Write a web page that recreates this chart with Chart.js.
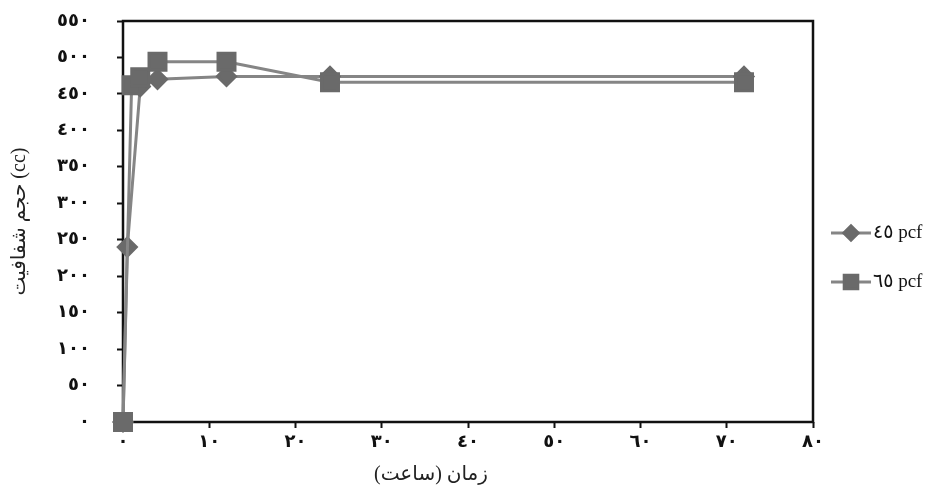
<!DOCTYPE html>
<html>
<head>
<meta charset="utf-8">
<script src="https://cdn.jsdelivr.net/npm/chart.js@4.4.0/dist/chart.umd.min.js"></script>
<style>
  html, body { margin: 0; padding: 0; background: #fff; }
  #wrap { width: 940px; height: 492px; }
</style>
</head>
<body>
<div id="wrap"><canvas id="grafico" width="940" height="492"></canvas></div>
<script>
// tick labels in Arabic-Indic digits
const xTickLabels = ['٠', '١٠', '٢٠', '٣٠', '٤٠', '٥٠', '٦٠', '٧٠', '٨٠'];
const yTickLabels = ['٠', '٥٠', '١٠٠', '١٥٠', '٢٠٠', '٢٥٠', '٣٠٠', '٣٥٠', '٤٠٠', '٤٥٠', '٥٠٠', '٥٥٠'];

// series (hours, cc)
const seriesNames = ['٤٥ pcf', '٦٥ pcf'];
const hours45 = [0, 0.5, 2, 4, 12, 24, 72];
const volume45 = [0, 240, 460, 470, 474, 474, 474];
const hours65 = [0, 1, 2, 4, 12, 24, 72];
const volume65 = [0, 462, 473, 494, 494, 466, 466];

const xTitle = 'زمان (ساعت)';
const yTitle = 'حجم شفافیت (cc)';

const fontFam = "'Liberation Serif', 'DejaVu Sans', serif";
const lineGrey = '#858585';
const markGrey = '#6a6a6a';

function toPoints(xs, ys) {
  return xs.map(function(x, i) { return { x: x, y: ys[i] }; });
}

// frame round the plot, legend and x title
const extras = {
  id: 'extras',
  beforeDatasetsDraw: function(chart) {
    const a = chart.chartArea;
    const ctx = chart.ctx;
    ctx.save();
    ctx.strokeStyle = '#111';
    ctx.lineWidth = 2.5;
    ctx.strokeRect(a.left, a.top, a.right - a.left, a.bottom - a.top);
    ctx.restore();
  },
  afterDraw: function(chart) {
    const a = chart.chartArea;
    const ctx = chart.ctx;
    ctx.save();
    // legend
    const rows = [233, 282];
    chart.data.datasets.forEach(function(ds, i) {
      const y = rows[i];
      const x0 = a.right + 18;
      ctx.strokeStyle = ds.borderColor;
      ctx.lineWidth = 3;
      ctx.beginPath();
      ctx.moveTo(x0, y);
      ctx.lineTo(x0 + 40, y);
      ctx.stroke();
      ctx.fillStyle = ds.pointBackgroundColor;
      ctx.strokeStyle = ds.pointBorderColor;
      Chart.helpers.drawPoint(ctx, {
        pointStyle: ds.pointStyle,
        radius: ds.pointRadius * 0.8,
        rotation: 0,
        borderWidth: 1
      }, x0 + 20, y);
      ctx.fillStyle = '#111';
      ctx.font = '19px ' + fontFam;
      ctx.textAlign = 'left';
      ctx.textBaseline = 'middle';
      ctx.fillText(ds.label, x0 + 42, y);
    });
    // x axis title, right-to-left
    ctx.direction = 'rtl';
    ctx.font = '20px ' + fontFam;
    ctx.fillStyle = '#222';
    ctx.textAlign = 'center';
    ctx.textBaseline = 'middle';
    ctx.fillText(xTitle, 431, 475);
    ctx.restore();
  }
};

const ctx = document.querySelector('#grafico');
const chart = new Chart(ctx, {
  type: 'line',
  data: {
    datasets: [{
      label: seriesNames[0],
      data: toPoints(hours45, volume45),
      borderColor: lineGrey,
      borderWidth: 3,
      pointStyle: 'rectRot',
      pointRadius: 9,
      pointBackgroundColor: markGrey,
      pointBorderColor: markGrey,
      clip: false,
      order: 1
    }, {
      label: seriesNames[1],
      data: toPoints(hours65, volume65),
      borderColor: lineGrey,
      borderWidth: 3,
      pointStyle: 'rect',
      pointRadius: 12,
      pointBackgroundColor: markGrey,
      pointBorderColor: markGrey,
      clip: false,
      order: 0
    }]
  },
  options: {
    responsive: false,
    animation: false,
    layout: { autoPadding: false, padding: { top: 21, right: 127, left: 0, bottom: 0 } },
    plugins: {
      legend: { display: false },
      tooltip: { enabled: false }
    },
    scales: {
      x: {
        type: 'linear',
        min: 0,
        max: 80,
        afterFit: function(scale) { scale.height = 70; },
        border: { display: false },
        grid: { drawOnChartArea: false, drawTicks: true, tickLength: 6, tickWidth: 2, tickColor: '#111' },
        ticks: {
          stepSize: 10,
          padding: 4,
          color: '#111',
          font: { family: fontFam, size: 18, weight: 'bold' },
          callback: function(v, i) { return xTickLabels[i]; }
        }
      },
      y: {
        min: 0,
        max: 550,
        afterFit: function(scale) {
          scale.width = 123;
          scale.paddingTop = 0;
          scale.paddingBottom = 0;
        },
        border: { display: false },
        grid: { drawOnChartArea: false, drawTicks: true, tickLength: 6, tickWidth: 2, tickColor: '#111' },
        ticks: {
          stepSize: 50,
          padding: 27,
          color: '#111',
          font: { family: fontFam, size: 18, weight: 'bold' },
          callback: function(v, i) { return yTickLabels[i]; }
        },
        title: {
          display: true,
          text: yTitle,
          color: '#222',
          padding: { top: 8, bottom: 0 },
          font: { family: fontFam, size: 20 }
        }
      }
    }
  },
  plugins: [extras]
});
</script>
</body>
</html>
